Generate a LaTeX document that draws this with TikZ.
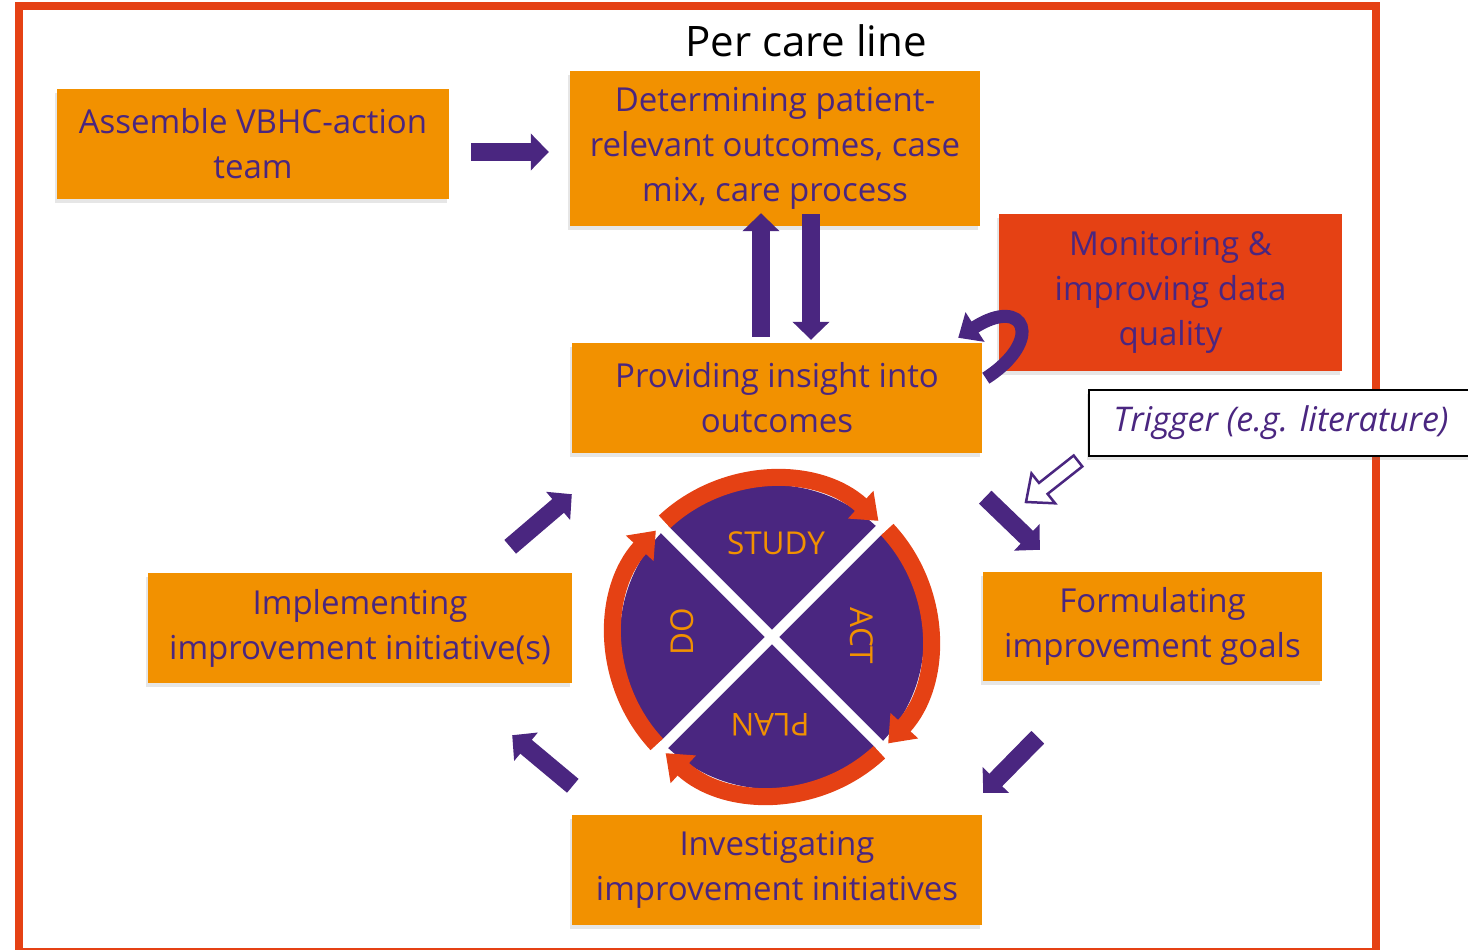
\documentclass[tikz,border=0pt]{standalone}
\usepackage{fontspec}
\setmainfont{Open Sans}
\usepackage{tikz}
\usetikzlibrary{arrows.meta,shadows}
\definecolor{vorange}{RGB}{242,145,0}
\definecolor{vred}{RGB}{229,65,20}
\definecolor{vpurple}{RGB}{74,38,128}

\begin{document}
\begin{tikzpicture}[x=1pt,y=-1pt,
                    box/.style={fill=vorange,text=vpurple,align=center,inner sep=0pt,
                                font=\fontsize{33}{45}\selectfont,
                                drop shadow={shadow xshift=-2pt,shadow yshift=-4pt,opacity=0.2}},
                    blk/.style={draw=vpurple,line width=18pt,-{Triangle[length=18pt,width=36pt]}},
                    letter/.style={text=vorange,font=\fontsize{31.5}{31.5}\selectfont}]
\useasboundingbox (0,0) rectangle (1468,950);
\draw [vred,line width=8pt] (19,6) rectangle (1376,952);
\node [font=\fontsize{42}{42}\selectfont] (t) at (806,41) {Per care line};

                \node [box,minimum width=392pt,minimum height=110pt] (0) at (253,144)    {Assemble VBHC-action\\team};
                \node [box,minimum width=410pt,minimum height=155pt] (1) at (775,148.5)  {Determining patient-\\relevant outcomes, case\\mix, care process};
                \node [box,fill=vred,minimum width=343pt,minimum height=157pt] (2) at (1170.5,292.5) {Monitoring \&\\improving data\\quality};
                \node [box,minimum width=410pt,minimum height=110pt] (3) at (777,398)    {Providing insight into\\outcomes};
                \node [box,minimum width=339pt,minimum height=109pt] (4) at (1152.5,626.5) {Formulating\\improvement goals};
                \node [box,minimum width=410pt,minimum height=110pt] (5) at (777,870)    {Investigating\\improvement initiatives};
                \node [box,minimum width=424pt,minimum height=110pt] (6) at (360,628)    {Implementing\\improvement initiative(s)};
                \node [draw=black,line width=2pt,fill=white,text=vpurple,inner sep=0pt,
                       font=\itshape\fontsize{34}{34}\selectfont,minimum width=384pt,minimum height=66pt,
                       drop shadow={shadow xshift=-2pt,shadow yshift=-4pt,opacity=0.2}] (7) at (1281,423) {Trigger (e.g. literature)};

                % block arrows between the steps
                \draw [blk] ([shift={(22,8)}]0.east) -- ([shift={(-21,3.5)}]1.west);
                \draw [blk] ([shift={(-16,-6)}]3.north) -- ([shift={(-14,-13)}]1.south);
                \draw [blk] ([shift={(36,-12)}]1.south) -- ([shift={(34,-3)}]3.north);
                \draw [blk] ([shift={(3,44)}]3.south east) -- ([shift={(57,-22)}]4.north west);
                \draw [blk] ([shift={(55,56)}]4.south west) -- ([shift={(1,-22)}]5.north east);
                \draw [blk] ([shift={(1,-29)}]5.north west) -- ([shift={(-60,52)}]6.south east);
                \draw [blk] ([shift={(-62,-26)}]6.north east) -- ([shift={(0,41)}]3.south west);
                \draw [blk,line width=13pt,-{Triangle[length=20pt,width=34pt]}]
                      ([shift={(-13,7)}]2.south west) .. controls +(59,-38) and +(67,-43) .. ([shift={(-24,-5)}]3.north east);

                % hollow arrow from the trigger
                \draw [vpurple,line width=2.5pt,fill=white,line join=miter]
                      (1082.3,466.5) -- (1047.6,493.9) -- (1055.1,503.3) -- (1026,502)
                      -- (1031.5,473.5) -- (1039,482.9) -- (1073.7,455.5) -- cycle;

                % PDCA wheel
                \coordinate (c) at (772,637);
                \begin{scope}[shift={(c)},y=1pt]
                \fill [vpurple] (0,0) circle [radius=152];
                \foreach \a/\b in {133/47.5,43/-42.5,-47/-132.5,-137/-222.5}
                    \draw [vred,line width=17pt,-{Triangle[length=24pt,width=36pt]}]
                          (\a:157.5) arc [start angle=\a,end angle=\b,radius=157.5];
                \draw [white,line width=10pt] (45:170) -- (225:170) (135:170) -- (315:170);
                \node [letter]            (s) at (4,94)   {STUDY};
                \node [letter,rotate=-90] (a) at (90,1)   {ACT};
                \node [letter,rotate=180] (p) at (-2,-88) {PLAN};
                \node [letter,rotate=90]  (d) at (-90,5)  {DO};
                \end{scope}
\end{tikzpicture}
\end{document}
